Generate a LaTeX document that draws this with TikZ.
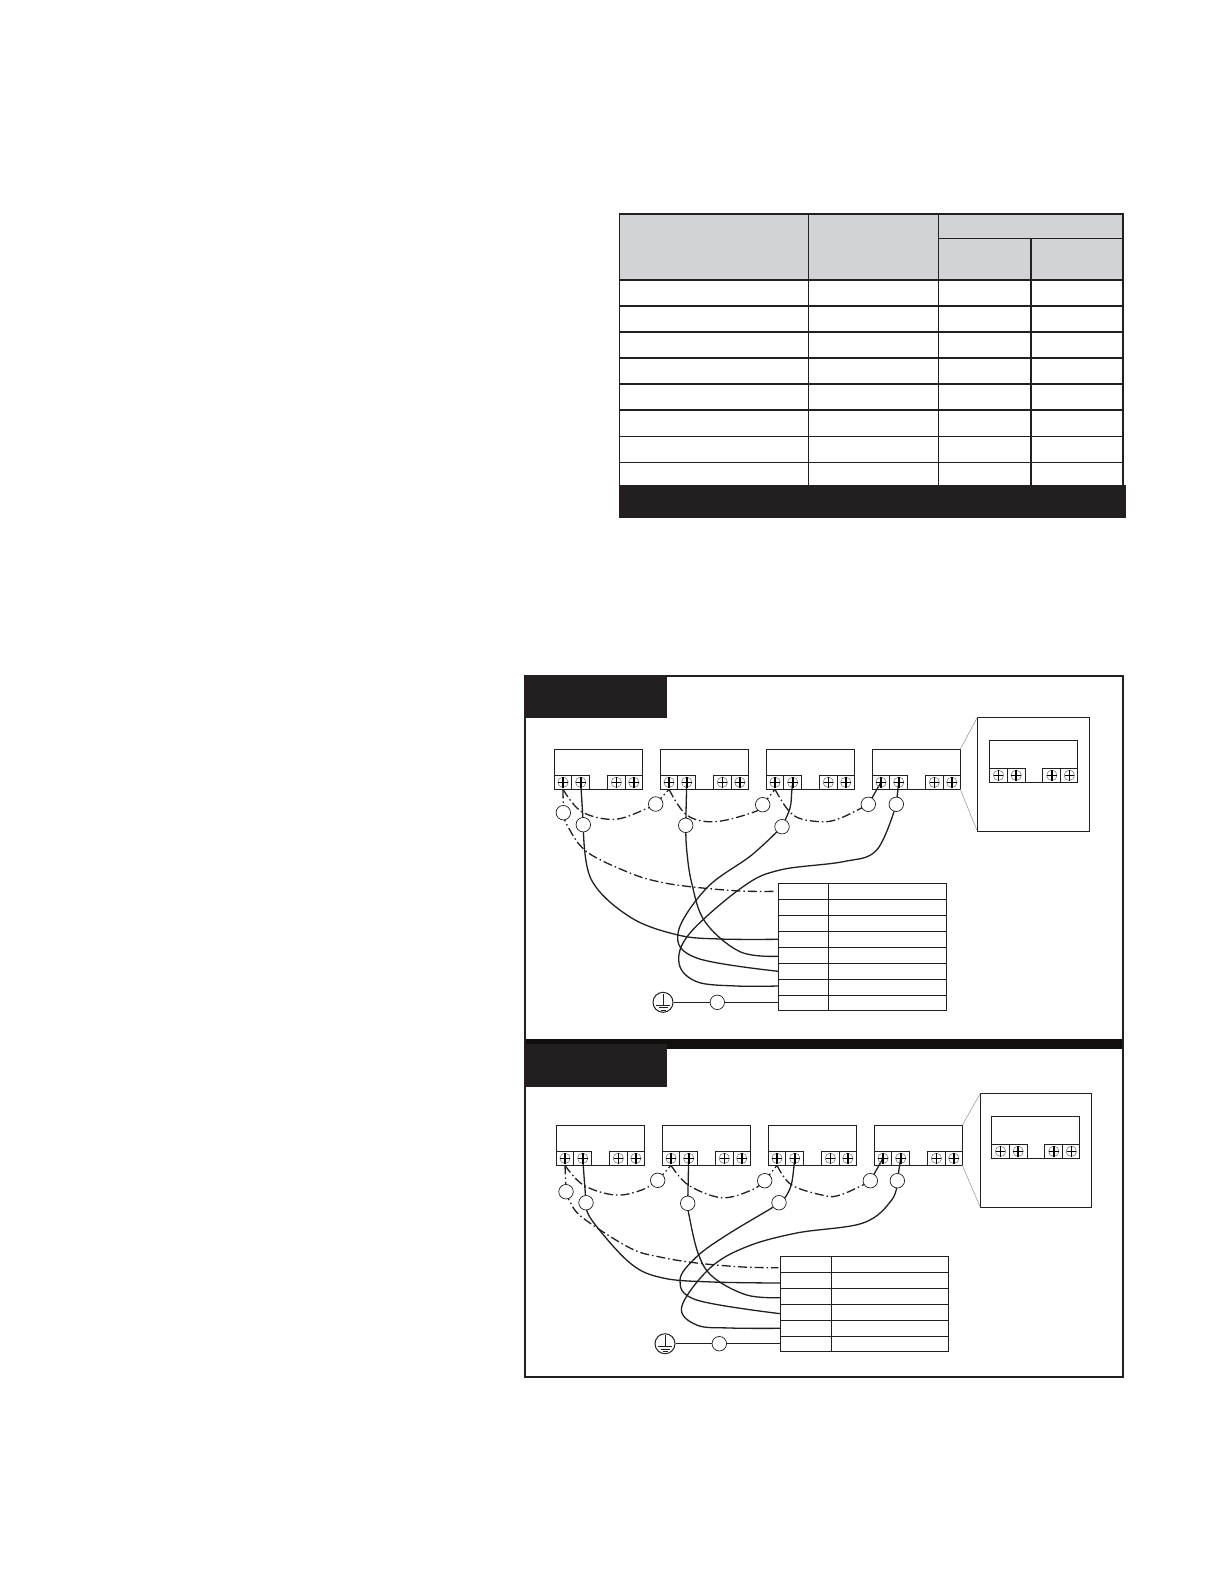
\documentclass[tikz,border=0pt]{standalone}
\definecolor{ink}{HTML}{231F20}
\definecolor{headgray}{HTML}{D2D3D4}
\definecolor{bardark}{HTML}{100F0D}
\pgfdeclarelayer{wires}
\pgfsetlayers{wires,main}
\tikzset{
  cellbox/.style={draw=ink,line width=1pt,rectangle,inner sep=0pt,outer sep=0pt,anchor=north west,minimum height=14pt},
  tablecell/.style={draw=ink,line width=1pt,rectangle,inner sep=0pt,outer sep=0pt},
  devbody/.style={draw=ink,line width=1pt,rectangle,inner sep=0pt,outer sep=0pt,anchor=north west,minimum width=88pt},
  inset/.style={draw=ink,line width=1.1pt,rectangle,inner sep=0pt,outer sep=0pt,anchor=north west},
  bubble/.style={circle,draw=ink,fill=white,line width=0.7pt,inner sep=0pt,minimum size=14.5pt},
  gndbubble/.style={circle,draw=ink,fill=white,line width=1pt,inner sep=0pt,minimum size=20pt},
  wire/.style={draw=ink,line width=1.3pt},
  dashwire/.style={draw=ink,line width=1.3pt,dash pattern=on 9pt off 3pt on 1.5pt off 3pt},
  smoothwire/.style={smooth,tension=0.6},
  leader/.style={draw=ink!50,line width=0.5pt},
  hthick/.style={draw=ink,line width=1.7pt},
  hthin/.style={draw=ink,line width=1.1pt},
  screwhead/.pic={
    \draw[ink!65,line width=0.5pt] (0,0) circle (5.2pt);
    \draw[black,line width=1.6pt] (-4.8,0) -- (4.8,0) (0,-5) -- (0,5.5);
  },
  groundmark/.pic={
    \draw[ink,line width=0.7pt] (0,-8.3) -- (0,2.7) (-7,2.7) -- (7,2.7) (-4.5,5.3) -- (4.5,5.3) (-2.5,8) -- (2.5,8);
  }
}
% name, x, y, body height
\newcommand\devbox[4]{%
  \pgfmathsetmacro\devh{#4+14}%
  \node[devbody,minimum height=\devh pt] (#1) at (#2,#3) {};
  \node[cellbox,minimum width=17.4pt] (#1a) at (#2,#3+#4) {};
  \node[cellbox,minimum width=18pt] (#1b) at (#2+17.4,#3+#4) {};
  \node[cellbox,minimum width=18pt] (#1c) at (#2+53,#3+#4) {};
  \node[cellbox,minimum width=17pt] (#1d) at (#2+71,#3+#4) {};
  \pic at (#1a.center) {screwhead};
  \pic at (#1b.center) {screwhead};
  \pic at (#1c.center) {screwhead};
  \pic at (#1d.center) {screwhead};
}
\begin{document}
\begin{tikzpicture}[x=1pt,y=-1pt]
\useasboundingbox (0,0) rectangle (1224,1584);
\begin{pgfonlayer}{wires}
  \fill[white] (0,0) rectangle (1224,1584);
\end{pgfonlayer}

% ---------- upper table ----------
\fill[headgray] (619.6,214) rectangle (1123,280);
\draw[hthick] (619.6,214) -- (1123,214);
\draw[hthin] (938.4,238.3) -- (1123,238.3);
\foreach \yy in {280,305.7,331.7,357.7,383.7,410}{\draw[hthick] (619.6,\yy) -- (1123,\yy);}
\foreach \yy in {436.3,462.3}{\draw[hthin] (619.6,\yy) -- (1123,\yy);}
\draw[hthick] (619.6,213.2) -- (619.6,486);
\draw[hthin] (808.5,214) -- (808.5,488);
\draw[hthin] (938.4,214) -- (938.4,488);
\draw[hthick] (1031,238.3) -- (1031,490);
\draw[hthick] (1123,213.2) -- (1123,486);
\fill[ink] (619,485.3) rectangle (1126,517.7);

% ---------- panels ----------
\draw[draw=ink,line width=2pt] (525,676) rectangle (1122.5,1377);
\fill[bardark] (526,1039) rectangle (1122,1049);
\fill[ink] (524,675) rectangle (667,717.7);
\fill[ink] (524,1044) rectangle (667,1086.7);

% ---------- panel 1 devices ----------
\devbox{pa}{554.3}{749.3}{26}
\devbox{pb}{660.3}{749.3}{26}
\devbox{pc}{766.3}{749.3}{26}
\devbox{pd}{872.3}{749.3}{26}
\node[inset,minimum width=112pt,minimum height=114pt] (pinset) at (977.3,717.3) {};
\devbox{pe}{989.8}{740.3}{28}
\draw[leader] (pd.north east) -- (pinset.north west);
\draw[leader] (pd.south east) -- (pinset.south west);

% panel 1 bubbles
\node[bubble] (pw1) at (563.3,812.7) {};
\node[bubble] (pw2) at (583.3,824.7) {};
\node[bubble] (pw3) at (655.7,804) {};
\node[bubble] (pw4) at (685.7,825.3) {};
\node[bubble] (pw5) at (762.7,804.7) {};
\node[bubble] (pw6) at (782,826.7) {};
\node[bubble] (pw7) at (868.3,804.3) {};
\node[bubble] (pw8) at (896.3,804.3) {};
\node[gndbubble] (pgnd) at (663,1002.3) {};
\pic at (pgnd.center) {groundmark};
\node[bubble] (pw9) at (717.3,1002.3) {};

% panel 1 table
\foreach \n/\yy/\hh in {1/891.3/16,2/907.3/16,3/923.3/16,4/939.3/16,5/955.3/16,6/971.3/16,7/987.3/16,8/1002.8/15}{
  \node[tablecell,minimum width=50pt,minimum height=\hh pt] (pl\n) at (803.3,\yy) {};
  \node[tablecell,minimum width=118pt,minimum height=\hh pt] (pr\n) at (887.3,\yy) {};
}

% ---------- panel 2 devices ----------
\devbox{qa}{556.3}{1125.3}{26}
\devbox{qb}{662.3}{1125.3}{26}
\devbox{qc}{768.3}{1125.3}{26}
\devbox{qd}{874.3}{1125.3}{26}
\node[inset,minimum width=111.4pt,minimum height=114pt] (qinset) at (980.3,1093.3) {};
\devbox{qe}{991.8}{1116.3}{28}
\draw[leader] (qd.north east) -- (qinset.north west);
\draw[leader] (qd.south east) -- (qinset.south west);

% panel 2 bubbles
\node[bubble] (qw1) at (566,1191.7) {};
\node[bubble] (qw2) at (586,1202.7) {};
\node[bubble] (qw3) at (657.7,1180.3) {};
\node[bubble] (qw4) at (687.7,1203.3) {};
\node[bubble] (qw5) at (764.7,1180.7) {};
\node[bubble] (qw6) at (779,1202.7) {};
\node[bubble] (qw7) at (870.3,1180.7) {};
\node[bubble] (qw8) at (897.3,1180.7) {};
\node[gndbubble] (qgnd) at (665,1343.7) {};
\pic at (qgnd.center) {groundmark};
\node[bubble] (qw9) at (719.3,1343.7) {};

% panel 2 table
\foreach \n/\yy/\hh in {1/1264.3/16,2/1280.3/16,3/1296.3/16,4/1312.3/16,5/1328.3/16,6/1343.8/15}{
  \node[tablecell,minimum width=51pt,minimum height=\hh pt] (ql\n) at (805.8,\yy) {};
  \node[tablecell,minimum width=117pt,minimum height=\hh pt] (qr\n) at (889.8,\yy) {};
}

% ---------- wires ----------
\begin{pgfonlayer}{wires}
% panel 1
\draw[dashwire] (paa.south) -- (pw1.center);
\draw[dashwire] plot[smoothwire] coordinates {(pw1.center) (567,825) (586.7,851.7) (630,873) (660,882) (693,887) (740,891) ([xshift=-2pt]pl1.west)};
\draw[wire] (pab.center) -- (pw2.center);
\draw[wire] plot[smoothwire] coordinates {(pw2.center) (591,879) (630,917) (678,935) (720,939) (pl4.west)};
\draw[dashwire] plot[smoothwire] coordinates {(paa.south) (581.7,811.7) (615,819.3) (648,808) (pw3.center)};
\draw[dashwire] (pw3.center) -- (pba.south);
\draw[wire] (pbb.center) -- (pw4.center);
\draw[wire] plot[smoothwire] coordinates {(pw4.center) (686.7,850) (691.7,883) (705,921.7) (740,951.7) ([yshift=-1pt]pl5.west)};
\draw[dashwire] plot[smoothwire] coordinates {(pba.south) (686.7,815) (715,821.7) (755,811.7) (pw5.center)};
\draw[dashwire] (pw5.center) -- (pca.south);
\draw[wire] plot[smoothwire] coordinates {(pcb.center) (791.7,792) (790,808) (pw6.center)};
\draw[wire] plot[smoothwire] coordinates {(pw6.center) (751.7,855) (706.7,888) (678,933) (696.7,958) (pl6.west)};
\draw[dashwire] plot[smoothwire] coordinates {(pca.south) (793,815) (820,821.7) (840,818.3) (pw7.center)};
\draw[wire] (pw7.center) -- (pda.center);
\draw[wire] (pdb.center) -- (pw8.center);
\draw[wire] plot[smoothwire] coordinates {(pw8.center) (876.7,850) (843,861.7) (780,870) (743,886.7) (690,933) (679,963) (696.7,981.7) (736.7,986) ([yshift=1.3pt]pl7.west)};
\draw[wire] (pgnd.east) -- (pw9.west);
\draw[wire] (pw9.east) -- (pl8.west |- pw9.east);

% panel 2
\draw[dashwire] (qaa.south) -- (qw1.center);
\draw[dashwire] plot[smoothwire] coordinates {(qw1.center) (570,1201.7) (583,1218) (630,1248) (660,1257) (696.7,1263) (743,1267) ([xshift=-2pt,yshift=-3.4pt]ql1.west)};
\draw[wire] (qab.center) -- (qw2.center);
\draw[wire] plot[smoothwire] coordinates {(qw2.center) (591.7,1220) (630,1263) (663,1278) (713,1282) ([yshift=-2.7pt]ql2.west)};
\draw[dashwire] plot[smoothwire] coordinates {(qaa.south) (583.3,1185) (615,1195) (641.7,1190) (qw3.center)};
\draw[dashwire] (qw3.center) -- (qba.south);
\draw[wire] (qbb.center) -- (qw4.center);
\draw[wire] plot[smoothwire] coordinates {(qw4.center) (688,1210) (698,1253) (713,1277) (746.7,1295) ([yshift=-1.4pt]ql3.west)};
\draw[dashwire] plot[smoothwire] coordinates {(qba.south) (688.3,1185) (721.7,1197.7) (751.7,1190) (qw5.center)};
\draw[dashwire] (qw5.center) -- (qca.south);
\draw[wire] plot[smoothwire] coordinates {(qcb.center) (791.7,1183) (785.7,1196.7) (qw6.center)};
\draw[wire] plot[smoothwire] coordinates {(qw6.center) (771.7,1208) (726.7,1235) (696.7,1256.7) (680,1280) (696.7,1300) ([yshift=-1.4pt]ql4.west)};
\draw[dashwire] plot[smoothwire] coordinates {(qca.south) (791.7,1185) (825,1195.7) (840,1195) (863,1185) (qw7.center)};
\draw[wire] (qw7.center) -- (qda.center);
\draw[wire] (qdb.center) -- (qw8.center);
\draw[wire] plot[smoothwire] coordinates {(qw8.center) (891.7,1200) (863,1223) (796.7,1233) (746.7,1246.7) (710,1268) (681.7,1306.7) (696.7,1325) (730,1328) (ql5.west)};
\draw[wire] (qgnd.east) -- (qw9.west);
\draw[wire] (qw9.east) -- (ql6.west |- qw9.east);
\end{pgfonlayer}
\end{tikzpicture}
\end{document}
